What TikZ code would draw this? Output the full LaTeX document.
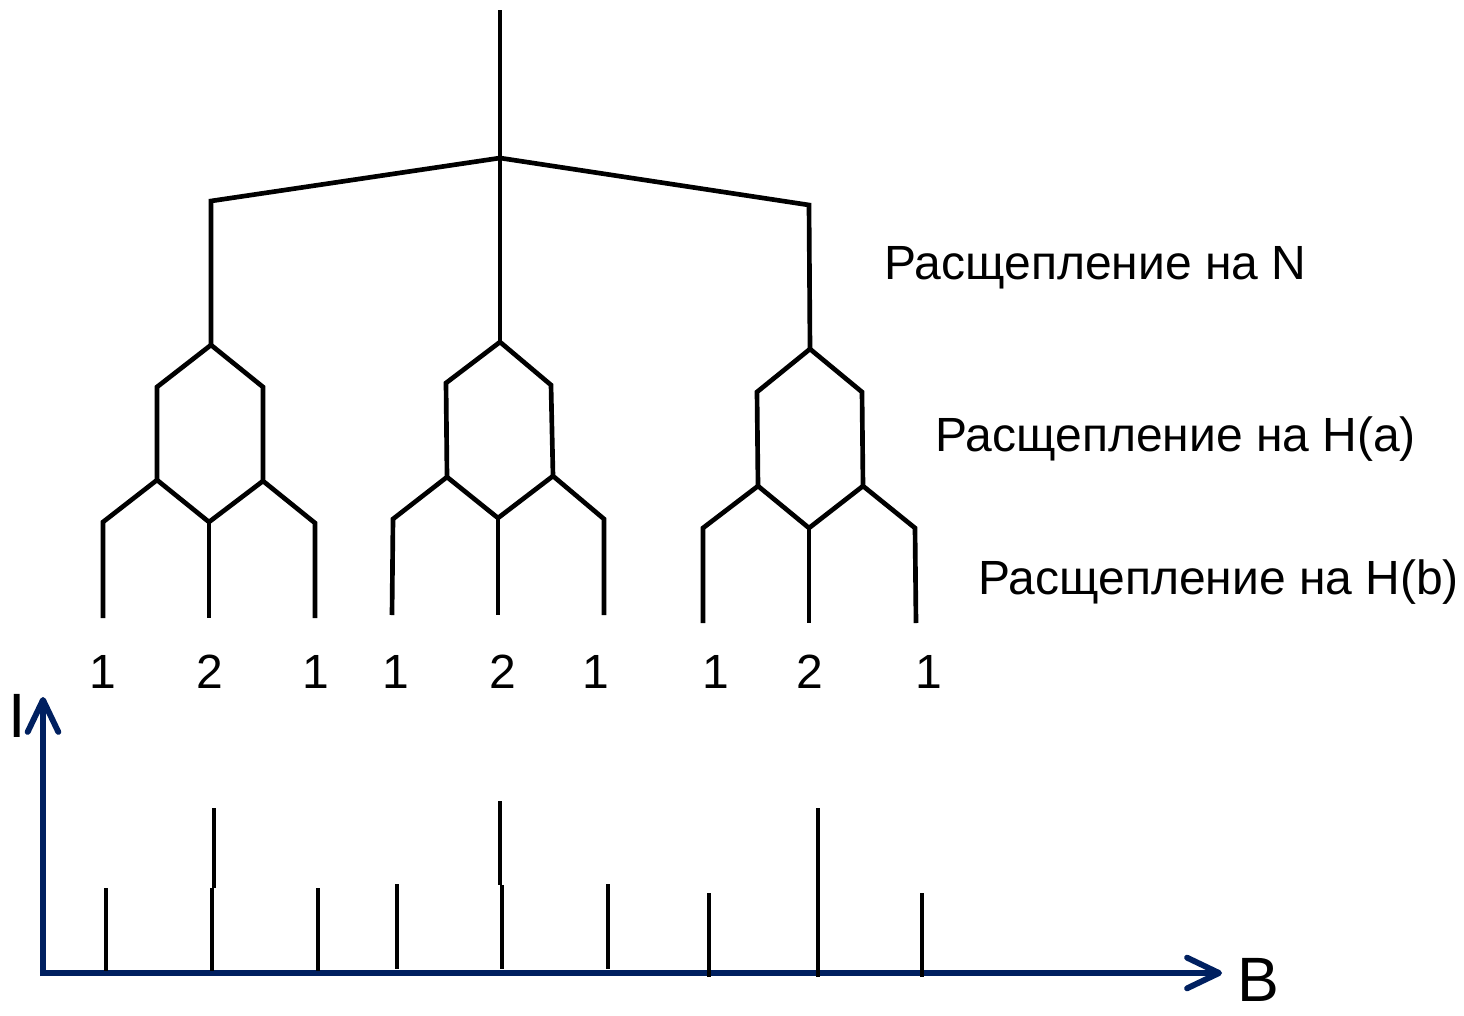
\documentclass[tikz,border=0pt]{standalone}
\usepackage{fontspec}
\setmainfont{Liberation Sans}
\usetikzlibrary{arrows.meta}
\definecolor{navy}{RGB}{0,32,96}
\begin{document}
\begin{tikzpicture}[x=0.75pt,y=-0.75pt,
  tree/.style={line width=3.5pt,black,line join=miter},
  peak/.style={line width=3.3pt,black},
  axis/.style={line width=4.4pt,navy,-{Straight Barb[round,length=24pt,width=23pt,line width=4.4pt]}},
  lbl/.style={inner sep=0pt,anchor=base west,font=\fontsize{36}{40}\selectfont},
  num/.style={inner sep=0pt,anchor=base,font=\fontsize{36}{40}\selectfont},
  axlbl/.style={inner sep=0pt,anchor=base west,font=\fontsize{47}{52}\selectfont}]
\useasboundingbox (0,0) rectangle (1464,1015);
% tree coordinates
\coordinate (top) at (500,10);
\coordinate (root) at (500,158);
\coordinate (L1) at (211,201);
\coordinate (R1) at (809,205);
\coordinate (Ltop) at (211,345);
\coordinate (Mtop) at (500,342);
\coordinate (Rtop) at (810,349);
% left hexagon
\coordinate (aul) at (157,387); \coordinate (all) at (157,480);
\coordinate (aur) at (263,387); \coordinate (alr) at (263,481);
\coordinate (ab) at (209,522);
\coordinate (aol) at (103,522); \coordinate (aor) at (315,523);
\coordinate (ae1) at (103,618); \coordinate (ae2) at (209,618); \coordinate (ae3) at (315,618);
% middle hexagon
\coordinate (bul) at (446,383); \coordinate (bll) at (447,477);
\coordinate (bur) at (551,385); \coordinate (blr) at (553,476);
\coordinate (bb) at (498,518);
\coordinate (bol) at (393,519); \coordinate (bor) at (604,519);
\coordinate (be1) at (392,615); \coordinate (be2) at (498,615); \coordinate (be3) at (604,615);
% right hexagon
\coordinate (cul) at (757,392); \coordinate (cll) at (758,486);
\coordinate (cur) at (862,392); \coordinate (clr) at (863,486);
\coordinate (cb) at (809,528);
\coordinate (col) at (703,528); \coordinate (cor) at (915,528);
\coordinate (ce1) at (703,623); \coordinate (ce2) at (809,623); \coordinate (ce3) at (916,623);

% splitting on N
\draw[tree] (top) -- (root) -- (Mtop);
\draw[tree] (Ltop) -- (L1) -- (root) -- (R1) -- (Rtop);
% left
\draw[tree] (Ltop) -- (aul) -- (all) -- (aol) -- (ae1);
\draw[tree] (Ltop) -- (aur) -- (alr) -- (aor) -- (ae3);
\draw[tree] (all) -- (ab) -- (alr);
\draw[tree] (ab) -- (ae2);
% middle
\draw[tree] (Mtop) -- (bul) -- (bll) -- (bol) -- (be1);
\draw[tree] (Mtop) -- (bur) -- (blr) -- (bor) -- (be3);
\draw[tree] (bll) -- (bb) -- (blr);
\draw[tree] (bb) -- (be2);
% right
\draw[tree] (Rtop) -- (cul) -- (cll) -- (col) -- (ce1);
\draw[tree] (Rtop) -- (cur) -- (clr) -- (cor) -- (ce3);
\draw[tree] (cll) -- (cb) -- (clr);
\draw[tree] (cb) -- (ce2);

% labels
\node[lbl] (tN) at (884,279) {Расщепление на N};
\node[lbl] (tHa) at (935,451) {Расщепление на H(a)};
\node[lbl] (tHb) at (978,594) {Расщепление на H(b)};

\node[num] (n1) at (103,688) {1};
\node[num] (n2) at (210,688) {2};
\node[num] (n3) at (316,688) {1};
\node[num] (n4) at (396,688) {1};
\node[num] (n5) at (503,688) {2};
\node[num] (n6) at (596,688) {1};
\node[num] (n7) at (716,688) {1};
\node[num] (n8) at (810,688) {2};
\node[num] (n9) at (929,688) {1};

% spectrum peaks
\coordinate (p1t) at (106,888); \coordinate (p1b) at (106,971);
\coordinate (p2t) at (214,808); \coordinate (p2m) at (214,888); \coordinate (p2u) at (212,888); \coordinate (p2b) at (212,971);
\coordinate (p3t) at (318,888); \coordinate (p3b) at (318,971);
\coordinate (p4t) at (397,884); \coordinate (p4b) at (397,969);
\coordinate (p5t) at (500,801); \coordinate (p5m) at (500,885); \coordinate (p5u) at (502,885); \coordinate (p5b) at (502,969);
\coordinate (p6t) at (608,884); \coordinate (p6b) at (608,969);
\coordinate (p7t) at (709,893); \coordinate (p7b) at (709,977);
\coordinate (p8t) at (818,808); \coordinate (p8b) at (818,977);
\coordinate (p9t) at (922,893); \coordinate (p9b) at (922,977);

% axes
\coordinate (orig) at (43,973);
\coordinate (ytip) at (43,697);
\coordinate (xtip) at (1222,973);
\draw[axis] (43,976) -- (ytip);
\draw[axis] (41,973) -- (xtip);

\draw[peak] (p1t) -- (p1b);
\draw[peak] (p2t) -- (p2m); \draw[peak] (p2u) -- (p2b);
\draw[peak] (p3t) -- (p3b);
\draw[peak] (p4t) -- (p4b);
\draw[peak] (p5t) -- (p5m); \draw[peak] (p5u) -- (p5b);
\draw[peak] (p6t) -- (p6b);
\draw[peak] (p7t) -- (p7b);
\draw[peak] (p8t) -- (p8b);
\draw[peak] (p9t) -- (p9b);

\node[axlbl] (tI) at (8,737) {I};
\node[axlbl] (tB) at (1237,1001) {B};
\end{tikzpicture}
\end{document}
